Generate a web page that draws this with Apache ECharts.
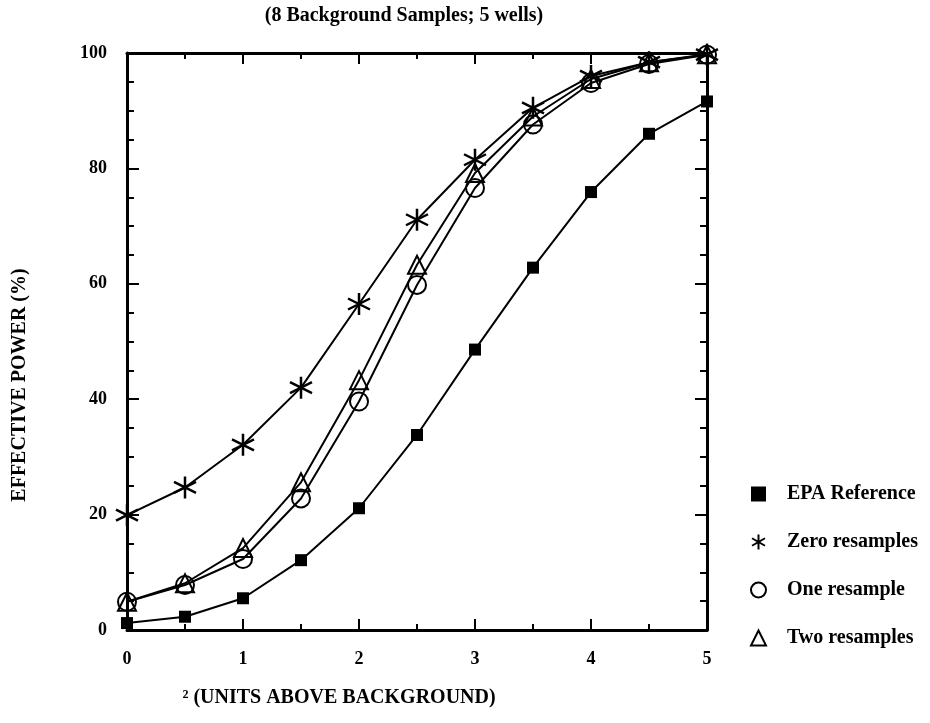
<!DOCTYPE html>
<html><head><meta charset="utf-8">
<script src="https://cdn.jsdelivr.net/npm/echarts@6/dist/echarts.min.js"></script>
<style>html,body{margin:0;padding:0;background:#fff}#c{width:930px;height:723px}</style>
</head><body><div id="c"></div>
<script>
const xValues = [0, 0.5, 1, 1.5, 2, 2.5, 3, 3.5, 4, 4.5, 5];
const epaReference = [1.2, 2.3, 5.5, 12.1, 21.1, 33.8, 48.6, 62.8, 75.9, 86.0, 91.6];
const zeroResamples = [19.9, 24.7, 32.1, 42.0, 56.5, 71.1, 81.5, 90.5, 96.0, 98.4, 99.7];
const oneResample = [4.9, 7.8, 12.3, 22.8, 39.6, 59.8, 76.6, 87.6, 94.8, 98.1, 99.7];
const twoResamples = [4.9, 8.1, 14.2, 25.6, 43.3, 63.3, 79.2, 89.0, 95.5, 98.4, 99.8];
const seriesNames = ['EPA Reference', 'Zero resamples', 'One resample', 'Two resamples'];
const titleText = '(8 Background Samples; 5 wells)';
const xAxisName = '\u00B2 (UNITS ABOVE BACKGROUND)';
const yAxisName = 'EFFECTIVE POWER (%)';

const FONT = '"Liberation Serif", "Times New Roman", serif';
const STAR = 'path://M0,-10L0,10M-8.66,-5L8.66,5M-8.66,5L8.66,-5';

function pairs(ys) { return xValues.map((x, i) => [x, ys[i]]); }

const chart = echarts.init(document.getElementById('c'), null, {renderer: 'canvas'});

const axisCommon = {
  axisLine: {show: true, onZero: false, lineStyle: {color: '#000', width: 3}},
  splitLine: {show: false},
  minorSplitLine: {show: false}
};
function xAx(pos, labels) {
  return Object.assign({}, axisCommon, {
    type: 'value', position: pos, min: 0, max: 5, interval: 1,
    axisTick: {show: true, inside: true, length: 11, lineStyle: {color: '#000', width: 2}},
    minorTick: {show: true, splitNumber: 2, length: 6, lineStyle: {color: '#000', width: 2}},
    axisLabel: {show: labels, margin: 20, color: '#000', fontFamily: FONT, fontWeight: 'bold', fontSize: 18}
  });
}
function yAx(pos, labels) {
  return Object.assign({}, axisCommon, {
    type: 'value', position: pos, min: 0, max: 100, interval: 20,
    axisTick: {show: true, inside: true, length: 12, lineStyle: {color: '#000', width: 2}},
    minorTick: {show: true, splitNumber: 4, length: 7, lineStyle: {color: '#000', width: 2}},
    axisLabel: {show: labels, margin: 20, color: '#000', fontFamily: FONT, fontWeight: 'bold', fontSize: 18}
  });
}

function mkSeries(name, ys, symbol, size, filled, z, bw) {
  return {
    name: name, type: 'line', data: pairs(ys),
    symbol: symbol, symbolSize: size, showAllSymbol: true,
    lineStyle: {color: '#000', width: 2},
    itemStyle: filled ? {color: '#000', borderColor: '#000', borderWidth: 0}
                      : {color: 'rgba(0,0,0,0)', borderColor: '#000', borderWidth: bw || 2},
    z: z, animation: false
  };
}

chart.setOption({
  animation: false,
  backgroundColor: '#fff',
  grid: {left: 127, right: 223, top: 53, bottom: 93, containLabel: false},
  xAxis: [xAx('bottom', true), xAx('top', false)],
  yAxis: [yAx('left', true), yAx('right', false)],
  legend: {
    orient: 'vertical', left: 745, top: 479, itemGap: 28,
    itemWidth: 15, itemHeight: 15, selectedMode: false,
    textStyle: {color: '#000', fontFamily: FONT, fontWeight: 'bold', fontSize: 20, padding: [0, 0, 0, 16]},
    data: [
      {name: seriesNames[0], icon: 'rect'},
      {name: seriesNames[1], icon: STAR},
      {name: seriesNames[2], icon: 'circle'},
      {name: seriesNames[3], icon: 'triangle'}
    ]
  },
  graphic: [
    {type: 'text', x: 404, y: 16, style: {text: titleText, font: 'bold 20px ' + FONT, fill: '#000', textAlign: 'center', textVerticalAlign: 'middle'}},
    {type: 'text', x: 339, y: 698, style: {text: xAxisName, font: 'bold 20px ' + FONT, fill: '#000', textAlign: 'center', textVerticalAlign: 'middle'}},
    {type: 'text', x: 20, y: 385, rotation: Math.PI / 2, style: {text: yAxisName, font: 'bold 20px ' + FONT, fill: '#000', textAlign: 'center', textVerticalAlign: 'middle'}}
  ],
  series: [
    mkSeries(seriesNames[0], epaReference, 'rect', 12, true, 3),
    mkSeries(seriesNames[1], zeroResamples, STAR, 22, false, 4, 2.5),
    mkSeries(seriesNames[2], oneResample, 'circle', 18, false, 5),
    mkSeries(seriesNames[3], twoResamples, 'triangle', 18, false, 6)
  ]
});
</script>
</body></html>
